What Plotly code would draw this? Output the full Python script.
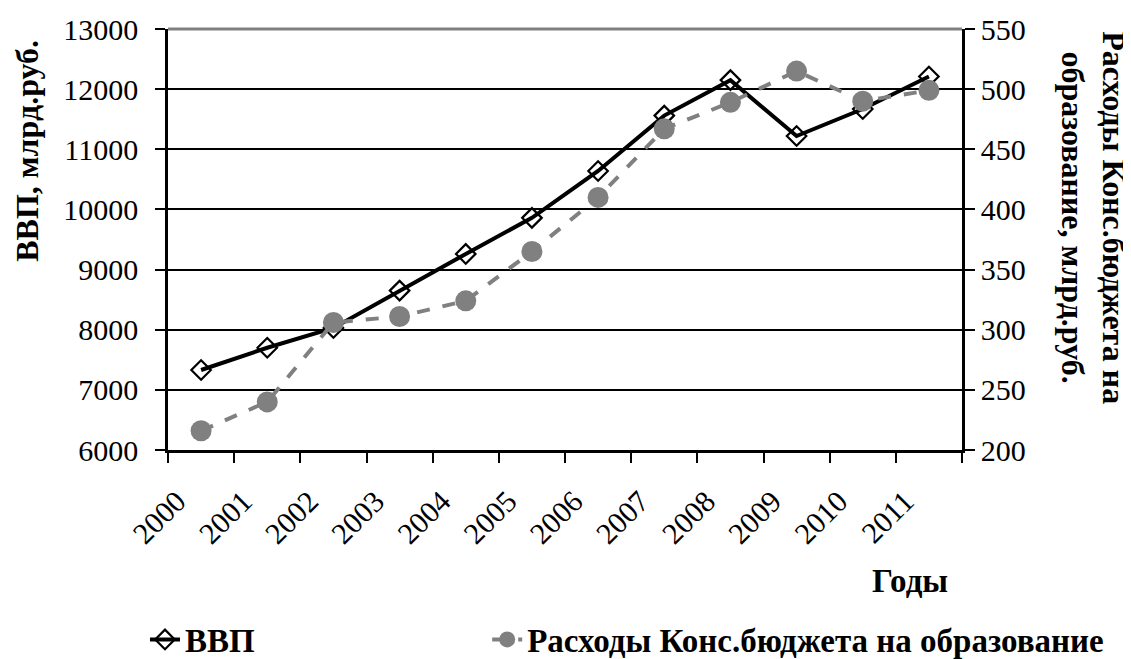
import plotly.graph_objects as go

years = ["2000", "2001", "2002", "2003", "2004", "2005", "2006", "2007", "2008", "2009", "2010", "2011"]
gdp = [7330, 7700, 8030, 8650, 9260, 9860, 10640, 11560, 12150, 11220, 11670, 12210]
edu = [216, 240, 306, 311, 324, 365, 410, 467, 489, 515, 490, 499]

gdp_name = "ВВП"
edu_name = "Расходы Конс.бюджета на образование"
left_title = "ВВП, млрд.руб."
right_title = "Расходы Конс.бюджета на<br>образование, млрд.руб."
x_title = "Годы"

left_ticks = [6000, 7000, 8000, 9000, 10000, 11000, 12000, 13000]
right_ticks = [200, 250, 300, 350, 400, 450, 500, 550]

FONT = "Liberation Serif, Times New Roman, serif"
TICK = 30
BOLD = 33
AXT = 32

fig = go.Figure()
fig.add_trace(go.Scatter(
    x=years, y=gdp, name=gdp_name, mode="lines+markers", legend="legend",
    line=dict(color="black", width=4),
    marker=dict(symbol="diamond-open", size=15, color="black", line=dict(width=2.2, color="black")),
))
fig.add_trace(go.Scatter(
    x=years, y=edu, name=edu_name, mode="lines+markers", yaxis="y2", legend="legend2",
    line=dict(color="#808080", width=4, dash="13px,13px"),
    marker=dict(symbol="circle", size=21, color="#808080"),
))

legend_font = dict(family=FONT, size=BOLD, color="black", weight="bold")

fig.update_layout(
    width=1123, height=651,
    margin=dict(l=160, r=169, t=21, b=209),
    paper_bgcolor="white", plot_bgcolor="white",
    font=dict(family=FONT, size=TICK, color="black"),
    showlegend=True,
    legend=dict(
        x=-0.029, xanchor="left", yref="container", y=0.03, yanchor="middle",
        font=legend_font, bgcolor="rgba(0,0,0,0)",
    ),
    legend2=dict(
        x=0.402, xanchor="left", yref="container", y=0.03, yanchor="middle",
        font=legend_font, bgcolor="rgba(0,0,0,0)",
    ),
    xaxis=dict(
        type="category", tickson="boundaries", ticks="outside", ticklen=10, tickwidth=2,
        tickcolor="black", showline=True, linecolor="black", linewidth=2.5,
        showgrid=False, tickangle=-45, tickfont=dict(family=FONT, size=TICK),
        ticklabelshift=-24, ticklabelstandoff=19,
        range=[-0.5, 11.5], automargin=False,
    ),
    yaxis=dict(
        range=[6000, 13000], tickvals=left_ticks, ticktext=[str(v) for v in left_ticks],
        ticks="outside", ticklen=10, tickwidth=2, ticklabelstandoff=11,
        tickcolor="black", showline=True, linecolor="black", linewidth=2.5,
        showgrid=True, gridcolor="black", gridwidth=2, zeroline=False,
        tickfont=dict(family=FONT, size=TICK), automargin=False,
    ),
    yaxis2=dict(
        range=[200, 550], tickvals=right_ticks, ticktext=[str(v) for v in right_ticks],
        overlaying="y", side="right",
        ticks="outside", ticklen=10, tickwidth=2, tickcolor="black",
        showline=True, linecolor="black", linewidth=2.5, showgrid=False, zeroline=False,
        tickfont=dict(family=FONT, size=TICK), automargin=False,
    ),
    shapes=[dict(type="line", xref="paper", yref="paper", x0=0, x1=1, y0=1, y1=1,
                 line=dict(color="#808080", width=3), layer="above")],
    annotations=[
        dict(text="<b>" + left_title + "</b>", xref="paper", yref="paper", x=-0.178, y=0.71,
             xanchor="center", yanchor="middle",
             textangle=-90, showarrow=False, font=dict(family=FONT, size=AXT)),
        dict(text="<b>" + right_title + "</b>", xref="paper", yref="paper", x=1.165, y=0.553,
             xanchor="center", yanchor="middle",
             textangle=90, showarrow=False, font=dict(family=FONT, size=AXT)),
        dict(text="<b>" + x_title + "</b>", xref="paper", yref="paper", x=0.9345, y=-0.311,
             xanchor="center", yanchor="middle",
             showarrow=False, font=dict(family=FONT, size=BOLD)),
    ],
)

fig.write_html("out.html")
